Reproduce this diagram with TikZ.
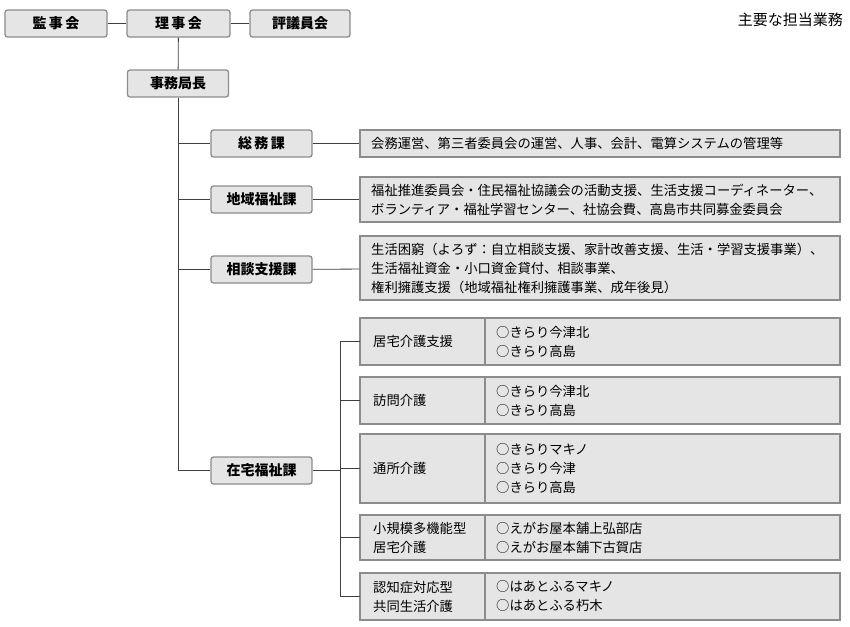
\documentclass[tikz,border=0pt]{standalone}
\usepackage{fontspec}
\setmainfont{Noto Sans CJK JP}
\begin{document}
\begin{tikzpicture}[x=1pt,y=-1pt,
 org/.style={draw=black!45,line width=1.3pt,fill=black!10,rounded corners=2.5pt,font=\fontsize{14}{16}\selectfont\bfseries,inner sep=0},
 desc/.style={draw=black!45,line width=1.3pt,fill=black!10,inner sep=0},
 t/.style={font=\fontsize{13.3}{19}\selectfont,anchor=west,align=left,inner sep=0},
 ln/.style={draw=black!75,line width=0.8pt}]
\useasboundingbox (0,0) rectangle (850,626);
\node[org,minimum width=102pt,minimum height=27pt] (kanji) at (56,23.5) {監\,事\,会};
\node[org,minimum width=103pt,minimum height=27pt] (riji) at (178.5,23.5) {理\,事\,会};
\node[org,minimum width=100pt,minimum height=27pt] (hyogi) at (300,23.5) {評議員会};
\node[org,minimum width=101pt,minimum height=27pt] (kyoku) at (178,83.5) {事務局長};
\draw[ln] (kanji) -- (riji); \draw[ln] (riji) -- (hyogi);
\draw[ln] (riji) -- (kyoku);
\coordinate (vb) at (178,470.5);
\draw[ln] (kyoku.south) -- (vb);
\foreach \n/\l/\y in {somu/総\,務\,課/143.5, chiiki/地域福祉課/199.5, sodan/相談支援課/269.5, zaitaku/在宅福祉課/470.5}{
 \node[org,minimum width=101pt,minimum height=27pt] (\n) at (261.5,\y) {\l};
 \draw[ln] (178,\y) -- (\n.west);}
\node[desc,minimum width=480pt,minimum height=27pt] (d1) at (600,143.5) {};
\node[desc,minimum width=480pt,minimum height=45pt] (d2) at (600,199.5) {};
\node[desc,minimum width=480pt,minimum height=64pt] (d3) at (600,268) {};
\draw[ln] (somu) -- (d1); \draw[ln] (chiiki) -- (d2); \draw[ln] (sodan) -- (d3);
\node[t] at (371,143.5) {会務運営、第三者委員会の運営、人事、会計、電算システムの管理等};
\node[t] at (371,199.5) {福祉推進委員会・住民福祉協議会の活動支援、生活支援コーディネーター、\\ボランティア・福祉学習センター、社協会費、高島市共同募金委員会};
\node[t] at (371,268) {生活困窮（よろず：自立相談支援、家計改善支援、生活・学習支援事業）、\\生活福祉資金・小口資金貸付、相談事業、\\権利擁護支援（地域福祉権利擁護事業、成年後見）};
\coordinate (zj) at (340,470.5);
\draw[ln] (zaitaku) -- (zj);
\draw[ln] (340,342) -- (340,597);
\foreach \n/\ya/\yb/\a/\b in {
 s1/318/365/居宅介護支援/{○きらり今津北\\○きらり高島},
 s2/377/424/訪問介護/{○きらり今津北\\○きらり高島},
 s3/434/503/通所介護/{○きらりマキノ\\○きらり今津\\○きらり高島},
 s4/515/560/{小規模多機能型\\居宅介護}/{○えがお屋本舗上弘部店\\○えがお屋本舗下古賀店},
 s5/573/620/{認知症対応型\\共同生活介護}/{○はあとふるマキノ\\○はあとふる朽木}}{
 \draw[desc] (360,\ya) rectangle (840,\yb);
 \draw[draw=black!45,line width=1.3pt] (485,\ya) -- (485,\yb);
 \coordinate (\n) at (360,{(\ya+\yb)/2});
 \draw[ln] (340,{(\ya+\yb)/2}) -- (\n);
 \node[t] at (373,{(\ya+\yb)/2}) {\a};
 \node[t] at (496,{(\ya+\yb)/2}) {\b};}
\node[font=\fontsize{15}{17}\selectfont,anchor=east,inner sep=0] (title) at (843,20) {主要な担当業務};
\end{tikzpicture}
\end{document}
